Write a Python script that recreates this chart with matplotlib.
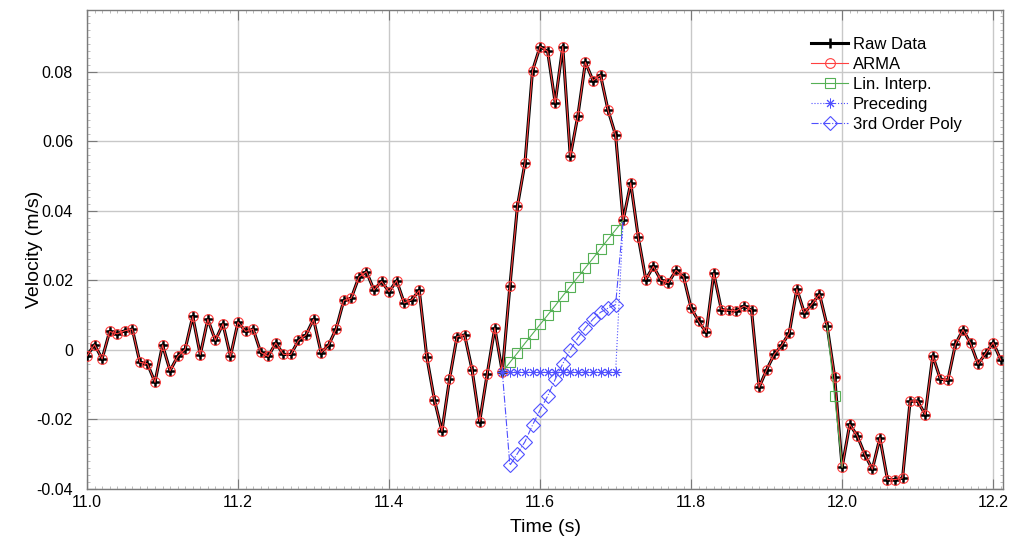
import numpy as np
import matplotlib
matplotlib.use("Agg")
import matplotlib.pyplot as plt
from matplotlib.ticker import MultipleLocator, FormatStrFormatter

plt.rcParams['font.family'] = ['Liberation Sans', 'DejaVu Sans']

# tiempo (s), paso de 0.01 s desde 11.00 hasta 12.21
t = np.round(np.arange(11.00, 12.215, 0.01), 2)

# velocidad medida (m/s)
raw = [-0.0017, 0.0015, -0.0026, 0.0053, 0.0046, 0.0055, 0.0060, -0.0036, -0.0040, -0.0093,
       0.0014, -0.0060, -0.0019, 0.0002, 0.0096, -0.0014, 0.0088, 0.0027, 0.0075, -0.0019,
       0.0080, 0.0053, 0.0060, -0.0007, -0.0019, 0.0020, -0.0013, -0.0013, 0.0027, 0.0043,
       0.0088, -0.0008, 0.0014, 0.0061, 0.0142, 0.0149, 0.0209, 0.0225, 0.0172, 0.0197,
       0.0167, 0.0199, 0.0135, 0.0144, 0.0171, -0.0021, -0.0143, -0.0234, -0.0085, 0.0038,
       0.0043, -0.0058, -0.0206, -0.0069, 0.0063, -0.0064, 0.0183, 0.0413, 0.0538, 0.0803,
       0.0872, 0.0858, 0.0710, 0.0872, 0.0556, 0.0673, 0.0827, 0.0774, 0.0790, 0.0689,
       0.0617, 0.0372, 0.0480, 0.0324, 0.0202, 0.0240, 0.0200, 0.0193, 0.0229, 0.0210,
       0.0120, 0.0082, 0.0050, 0.0220, 0.0116, 0.0114, 0.0112, 0.0126, 0.0114, -0.0108,
       -0.0057, -0.0013, 0.0013, 0.0049, 0.0175, 0.0106, 0.0132, 0.0160, 0.0070, -0.0077,
       -0.0337, -0.0214, -0.0247, -0.0301, -0.0343, -0.0253, -0.0373, -0.0373, -0.0368, -0.0147,
       -0.0147, -0.0186, -0.0017, -0.0084, -0.0087, 0.0016, 0.0058, 0.0019, -0.0041, -0.0010,
       0.0021, -0.0029]
arma = list(raw)

# hueco 11.55 - 11.71 (extremos incluidos)
t_gap = np.round(np.arange(11.55, 11.715, 0.01), 2)
lin = [-0.0064, -0.0036, -0.0009, 0.0019, 0.0046, 0.0073, 0.0100, 0.0127, 0.0155,
       0.0182, 0.0209, 0.0236, 0.0263, 0.0291, 0.0318, 0.0345, 0.0372]
prec = [-0.0064] * 16 + [0.0372]
poly = [-0.0064, -0.0332, -0.0298, -0.0264, -0.0216, -0.0173, -0.0133, -0.0085, -0.0040,
        0.0000, 0.0034, 0.0063, 0.0088, 0.0108, 0.0120, 0.0130, 0.0372]

# segundo hueco (un solo punto)
t_gap2 = [11.98, 11.99, 12.00]
lin2 = [0.0070, -0.0133, -0.0337]

red = '#ff4040'
green = '#55b055'
blue = '#5050ff'

fig = plt.figure(figsize=(10.13, 5.39), dpi=100)
ax = fig.add_axes([87/1013, 50/539, 916/1013, 479/539])

ax.plot(t, raw, color='black', linewidth=2.2, marker='+', markersize=7,
        markeredgewidth=1.8, label='Raw Data', zorder=3)
ax.plot(t, arma, color=red, linewidth=0.8, marker='o', markersize=7,
        markerfacecolor='none', markeredgewidth=0.8, label='ARMA', zorder=4)
ax.plot(t_gap, lin, color=green, linewidth=0.8, marker='s', markersize=7,
        markerfacecolor='none', markeredgewidth=0.8, markevery=slice(1, -1),
        label='Lin. Interp.', zorder=5)
ax.plot(t_gap2, lin2, color=green, linewidth=0.8, marker='s', markersize=7,
        markerfacecolor='none', markeredgewidth=0.8, markevery=[1], zorder=5)
ax.plot(t_gap, prec, color=blue, linewidth=0.8, linestyle=':', marker=(8, 2, 0),
        markersize=7, markeredgewidth=0.7, markevery=slice(0, -1),
        label='Preceding', zorder=6)
ax.plot(t_gap, poly, color=blue, linewidth=0.8, linestyle='-.', marker='D',
        markersize=7, markerfacecolor='none', markeredgewidth=0.8,
        markevery=slice(1, -1), label='3rd Order Poly', zorder=6)

ax.set_xlim(11.0, 12.213)
ax.set_ylim(-0.04, 0.0977)
ax.xaxis.set_major_locator(MultipleLocator(0.2))
ax.xaxis.set_major_formatter(FormatStrFormatter('%.1f'))
ax.xaxis.set_minor_locator(MultipleLocator(0.01))
ax.set_yticks([-0.04, -0.02, 0, 0.02, 0.04, 0.06, 0.08])
ax.set_yticklabels(['-0.04', '-0.02', '0', '0.02', '0.04', '0.06', '0.08'])
ax.yaxis.set_minor_locator(MultipleLocator(0.002))

ax.grid(True, color='#c8c8c8', linewidth=1.0)
ax.set_axisbelow(True)
for s in ax.spines.values():
    s.set_color('#7a7a7a')
    s.set_linewidth(1.0)
ax.tick_params(which='major', direction='in', length=7, color='#7a7a7a',
               labelsize=11.5, top=True, right=True)
ax.tick_params(axis='y', which='major', pad=10)
ax.tick_params(axis='x', which='major', pad=4)
ax.tick_params(which='minor', direction='in', length=2, color='#b0b0b0',
               top=True, right=True)

ax.set_xlabel('Time (s)', fontsize=14, labelpad=7)
ax.set_ylabel('Velocity (m/s)', fontsize=14, labelpad=-5)

ax.legend(loc='upper left', bbox_to_anchor=(803/1013, 1 - 29/539),
          bbox_transform=fig.transFigure, frameon=False, fontsize=12,
          handlelength=2.2, handletextpad=0.3, labelspacing=0.3, borderpad=0)

fig.savefig('out.png', dpi=100)
